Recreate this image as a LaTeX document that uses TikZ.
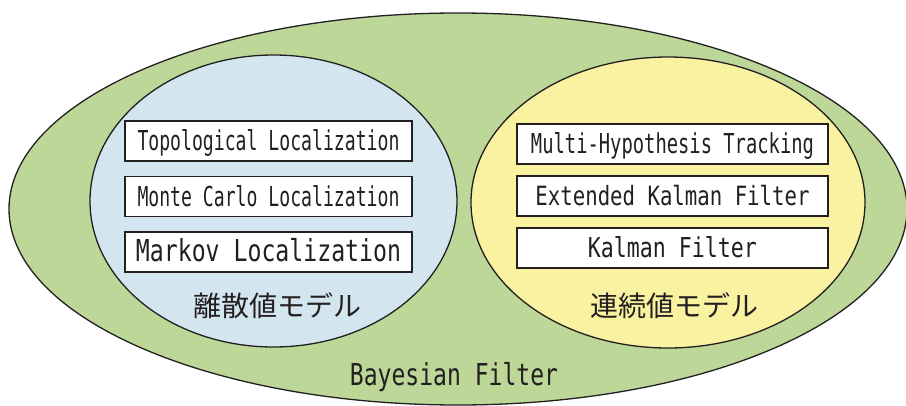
\documentclass[tikz,border=0pt]{standalone}
\usepackage{fontspec}
\usepackage{graphicx}
\newfontfamily\monofont{DejaVu Sans Mono}
\newfontfamily\jpfont{Noto Sans CJK JP}
\definecolor{bayesgreen}{HTML}{BDD799}
\definecolor{discblue}{HTML}{D3E6F0}
\definecolor{contyellow}{HTML}{F9F2A1}
\definecolor{ink}{HTML}{231F20}
% condensed monospace label: #1 = ink width, #2 = font size
\newcommand{\fitlabel}[3]{\resizebox{#1pt}{\height}{\fontsize{#2}{#2}\selectfont\monofont #3}}
\tikzset{
  region/.style={draw=ink, line width=1.3pt},
  itembox/.style={draw=ink, line width=1.8pt, fill=white, inner sep=0pt,
    text height=19pt, text depth=0pt, minimum height=40pt, text=ink},
  leftbox/.style={itembox, minimum width=287pt},
  rightbox/.style={itembox, minimum width=311pt},
  jplabel/.style={font=\jpfont\fontsize{28}{28}\selectfont, text=ink, inner sep=0pt},
  baselabel/.style={text=ink, inner sep=0pt, anchor=base},
}
\begin{document}
\begin{tikzpicture}[x=1pt, y=-1pt]
  \useasboundingbox (0,0) rectangle (906,405);

  % nested model regions
  \draw[region, fill=bayesgreen] (458,209) ellipse [x radius=449, y radius=196];
  \draw[region, fill=discblue] (273.5,201) ellipse [x radius=183.5, y radius=146];
  \draw[region, fill=contyellow] (668,202.5) ellipse [x radius=197, y radius=145.5];

  % discrete-state methods
  \node[leftbox] (topo) at (268.5,141) {\fitlabel{262}{27.4}{Topological Localization}};
  \node[leftbox] (mcl) at (268.5,196.5) {\fitlabel{262}{27.4}{Monte Carlo Localization}};
  \node[leftbox] (markov) at (268.5,252) {\fitlabel{265}{30.2}{Markov Localization}};
  \node[jplabel] (disc) at (277,306) {離散値モデル};

  % continuous-state methods
  \node[rightbox] (mht) at (672.5,144) {\fitlabel{283}{27.4}{Multi-Hypothesis Tracking}};
  \node[rightbox] (ekf) at (672.5,196) {\fitlabel{274}{26.5}{Extended Kalman Filter}};
  \node[rightbox] (kf) at (672.5,248) {\fitlabel{169}{27.4}{Kalman Filter}};
  \node[jplabel] (cont) at (674.5,306) {連続値モデル};

  \node[baselabel] (bayes) at (454,385) {\fitlabel{208}{30.2}{Bayesian Filter}};
\end{tikzpicture}
\end{document}
